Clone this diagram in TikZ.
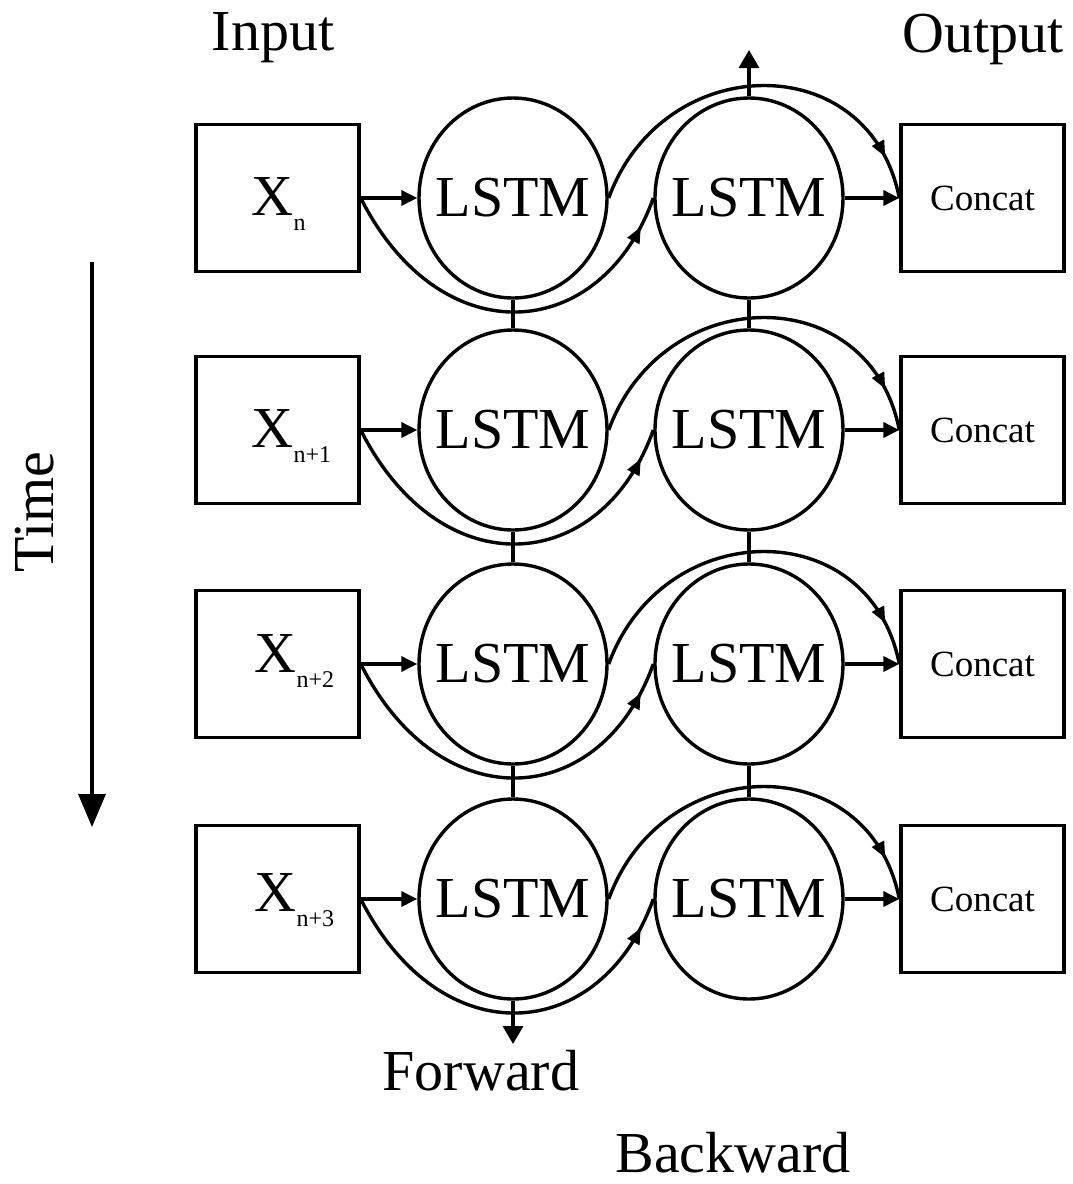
\documentclass[tikz,border=0pt]{standalone}
\usepackage{fontspec}
\setmainfont{Liberation Serif}
\usetikzlibrary{arrows.meta,decorations.markings,shapes.geometric}
\begin{document}
\begin{tikzpicture}[x=1pt,y=-1pt, line width=3.4pt,
  box/.style={draw, rectangle, minimum width=163pt, minimum height=147pt, inner sep=0pt},
  cell/.style={draw, ellipse, minimum width=188pt, minimum height=200pt, inner sep=0pt, text width=0pt, align=center, font=\fontsize{58}{60}\selectfont},
  big/.style={font=\fontsize{58}{60}\selectfont},
  cat/.style={font=\fontsize{37}{40}\selectfont},
  arr/.style={-{Triangle[length=16pt,width=15pt]}},
  endarr/.style={-{Triangle[length=18pt,width=20pt]}},
  midarr/.style={decoration={markings, mark=at position #1 with {\arrow{Triangle[length=16pt,width=13pt]}}}, postaction={decorate}},
]
\fill[white] (0,0) rectangle (1073,1184);
\useasboundingbox (0,0) rectangle (1073,1184);

\node[big, anchor=base] (inlab) at (273,50) {Input};
\node[big, anchor=base] (outlab) at (983,52) {Output};
\node[big, anchor=base] (fwlab) at (481,1090) {Forward};
\node[big, anchor=base] (bwlab) at (733,1172) {Backward};
\node[big, rotate=90] (timelab) at (35,512) {Time};

\coordinate (t0) at (92,262);
\coordinate (t1) at (92,827);
\draw[-{Triangle[length=33pt,width=27pt]}] (t0) -- (t1);

\foreach \i/\y/\sub/\off/\xl in {
  1/198/n/17/250,
  2/430/n+1/17/250,
  3/664/n+2/8/253,
  4/899/n+3/12/253}{
  \node[box] (in\i) at (277.5,\y) {};
  \node[anchor=base west, inner sep=0pt] (xl\i) at (\xl,\y+\off) {\fontsize{58}{60}\selectfont X\raisebox{-15pt}{\fontsize{24}{26}\selectfont \sub}};
  \node[cell] (f\i) at (513,\y) {\makebox[0pt]{LSTM}};
  \node[cell] (b\i) at (749,\y) {\makebox[0pt]{LSTM}};
  \node[box, cat] (c\i) at (982.5,\y) {Concat};
  \draw[arr] (in\i.east) -- (f\i.west);
  \draw[arr] (b\i.east) -- (c\i.west);
  \draw[midarr=0.92] (in\i.east) .. controls +(80,158) and +(-52,146) .. (b\i.west);
  \draw[midarr=0.89] (f\i.east) .. controls +(54,-148) and +(-30,-152) .. (c\i.west);
}
\foreach \i/\j in {1/2,2/3,3/4}{
  \draw (f\i.south) -- (f\j.north);
  \draw (b\i.south) -- (b\j.north);
}
\coordinate (top) at (749,50);
\coordinate (bot) at (513,1044);
\draw[endarr] (b1.north) -- (top);
\draw[endarr] (f4.south) -- (bot);
\end{tikzpicture}
\end{document}
